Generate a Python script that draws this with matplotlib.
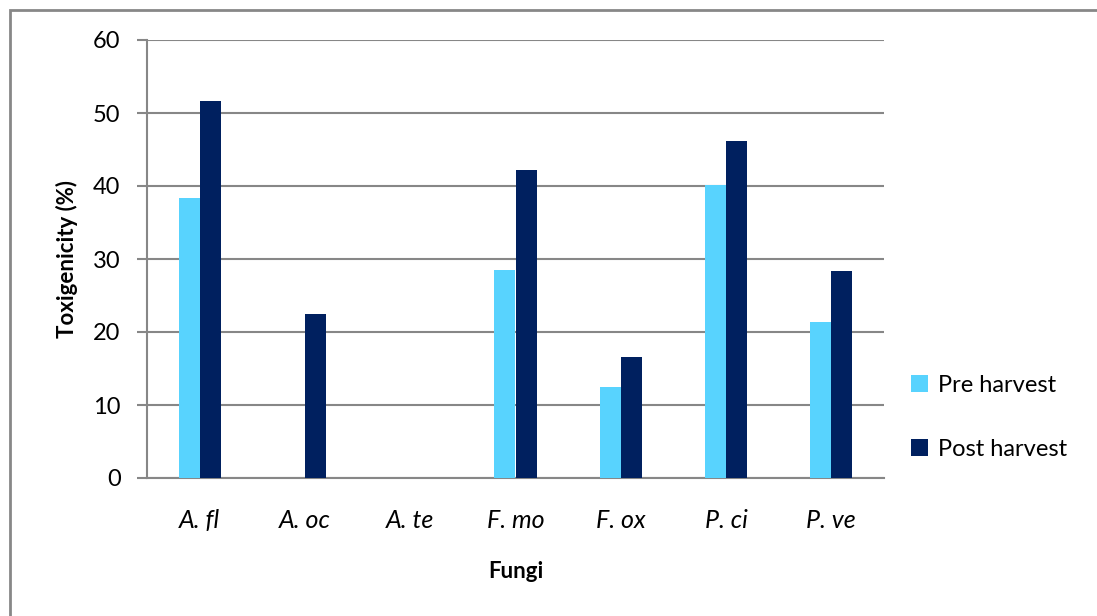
import numpy as np
import matplotlib
matplotlib.use("Agg")
import matplotlib.pyplot as plt
from matplotlib.patches import Rectangle

plt.rcParams['font.family'] = ['Lato', 'DejaVu Sans']

# data
fungi = ['A. fl', 'A. oc', 'A. te', 'F. mo', 'F. ox', 'P. ci', 'P. ve']
pre_harvest = [38.4, 0, 0, 28.5, 12.5, 40.1, 21.4]
post_harvest = [51.6, 22.5, 0, 42.2, 16.6, 46.2, 28.4]

col_pre = '#58D3FE'
col_post = '#00205F'
grey = '#878787'

fig = plt.figure(figsize=(10.97, 6.16), dpi=100)
ax = fig.add_axes([147/1097, 1 - 478/616, (884-147)/1097, (478-40)/616])

x = np.arange(len(fungi))
w = 0.2
ax.bar(x - w/2, pre_harvest, w, color=col_pre, label='Pre harvest', zorder=3)
ax.bar(x + w/2, post_harvest, w, color=col_post, label='Post harvest', zorder=3)

ax.set_xlim(-0.5, len(fungi) - 0.5)
ax.set_ylim(0, 60)
ax.set_yticks(range(0, 61, 10))
ax.yaxis.grid(True, color=grey, linewidth=1.5, zorder=0)
ax.set_axisbelow(True)

for s in ['top', 'right']:
    ax.spines[s].set_visible(False)
for s in ['left', 'bottom']:
    ax.spines[s].set_color(grey)
    ax.spines[s].set_linewidth(1.5)

ax.set_xticks(x)
ax.set_xticklabels(fungi, fontsize=18, style='italic')
ax.tick_params(axis='x', length=0, pad=22)
ax.tick_params(axis='y', length=7, width=1.5, color=grey, labelsize=17, pad=12)

ax.set_ylabel('Toxigenicity (%)', fontsize=16, fontweight='bold', labelpad=11)
ax.set_xlabel('Fungi', fontsize=16, fontweight='bold', labelpad=21)

ax.legend(loc='upper left', bbox_to_anchor=(911/1097, 1 - 375/616),
          bbox_transform=fig.transFigure, frameon=False, fontsize=17,
          handlelength=0.7, handleheight=0.7, handletextpad=0.45,
          labelspacing=1.8, borderaxespad=0, borderpad=0)

# outer chart border
fig.patches.append(Rectangle((10/1097, -0.1), 1.2, 1 - 10/616 + 0.1,
                             transform=fig.transFigure, fill=False,
                             edgecolor=grey, linewidth=2))

fig.savefig('out.png', dpi=100)
